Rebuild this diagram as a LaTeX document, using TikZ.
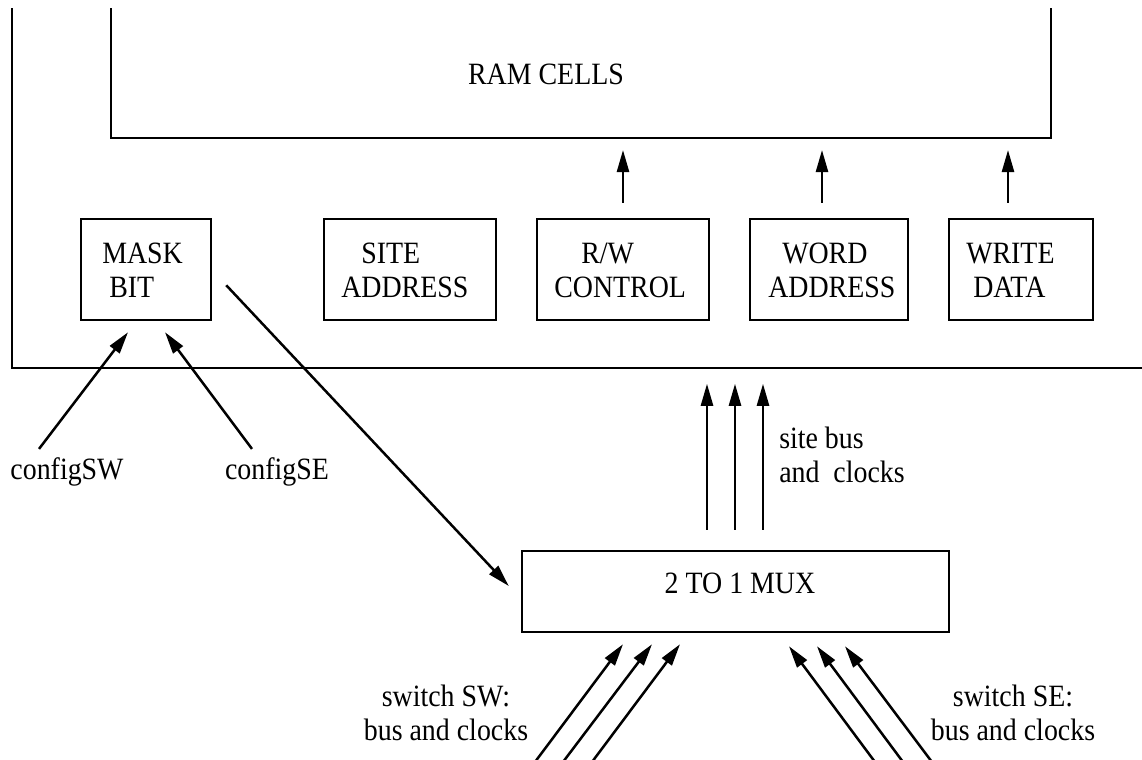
\documentclass[tikz,border=0pt]{standalone}
\usepackage{fontspec}
\setmainfont[FakeStretch=0.9]{Liberation Serif}
\usetikzlibrary{arrows.meta,calc}
\begin{document}
\begin{tikzpicture}[x=0.5pt,y=-0.5pt,line width=1.25pt,
  every node/.style={font=\fontsize{15.5}{17}\selectfont,inner sep=0pt},
  blk/.style={draw,line width=1.25pt,inner sep=0pt},
  lbl/.style={align=left,anchor=west},
  arr/.style={-{Triangle[length=11pt,width=6pt]}}]
\useasboundingbox (0,0) rectangle (1142,760);
% outer frame
\coordinate (ftop) at (12,8);
\coordinate (fl) at (12,368);
\coordinate (fr) at (1142,368);
\draw (ftop) -- (fl) -- (fr);
% RAM cells
\coordinate (ramtl) at (111,8);
\coordinate (ramb) at (111,138);
\coordinate (rambr) at (1051,138);
\coordinate (ramtr) at (1051,8);
\draw (ramtl) -- (ramb) -- (rambr) -- (ramtr);
\node (ram) at (546,74.5) {RAM CELLS};
% boxes
\node[blk,minimum width=65pt,minimum height=50.5pt] (mask) at (146,269.5) {};
\node[lbl] (maskT) at (101,270) {MASK\\\hspace*{3.5pt}BIT};
\node[blk,minimum width=86pt,minimum height=50.5pt] (site) at (410,269.5) {};
\node[lbl] (siteT) at (340,270) {\hspace*{10pt}SITE\\ADDRESS};
\node[blk,minimum width=86pt,minimum height=50.5pt] (rw) at (623,269.5) {};
\node[lbl] (rwT) at (553,270) {\hspace*{13.5pt}R/W\\CONTROL};
\node[blk,minimum width=79pt,minimum height=50.5pt] (word) at (829,269.5) {};
\node[lbl] (wordT) at (767,270) {\hspace*{7pt}WORD\\ADDRESS};
\node[blk,minimum width=72pt,minimum height=50.5pt] (write) at (1021,269.5) {};
\node[lbl] (writeT) at (965,270) {WRITE\\\hspace*{3.5pt}DATA};
% arrows into RAM
\draw[arr,shorten >=6pt] ($(rw.north)+(0,-15)$) -- ($(rw.north |- ramb)$);
\draw[arr,shorten >=6pt] ($(word.north)+(-7,-15)$) -- ($(word.north |- ramb)+(-7,0)$);
\draw[arr,shorten >=6pt] ($(write.north)+(-13,-15)$) -- ($(write.north |- ramb)+(-13,0)$);
% config inputs
\node[anchor=base] (csw) at (67,479) {configSW};
\node[anchor=base] (cse) at (277,479) {configSE};
\draw[arr] ($(csw.north)+(-28,-7)$) -- ($(mask.south)+(-18,11)$);
\draw[arr] ($(cse.north)+(-25,-7)$) -- ($(mask.south)+(19,11)$);
% mux
\node[blk,minimum width=213.5pt,minimum height=40.5pt] (mux) at (735.5,591.5) {};
\node (muxT) at (740,583) {2 TO 1 MUX};
\draw[arr] ($(mask.south east)+(14,-36)$) -- ($(mux.west)+(-12,-5.5)$);
% site bus
\foreach \dx in {-28.5,-0.5,27.5}
  \draw[arr] ($(mux.north)+(\dx,-20)$) -- ($(mux.north)+(\dx,-166)$);
\node[anchor=north west,align=left] (sbl) at (778,426) {site bus\\and\ \ clocks};
% switch inputs
\coordinate (sw1) at (535,762);
\coordinate (sw2) at (563,762);
\coordinate (sw3) at (592,762);
\draw[arr] (sw1) -- ($(mux.south)+(-112.5,11)$);
\draw[arr] (sw2) -- ($(mux.south)+(-83.5,11)$);
\draw[arr] (sw3) -- ($(mux.south)+(-55.5,11)$);
\coordinate (se1) at (875,762);
\coordinate (se2) at (903,762);
\coordinate (se3) at (932,762);
\draw[arr] (se1) -- ($(mux.south)+(53.5,13)$);
\draw[arr] (se2) -- ($(mux.south)+(81.5,13)$);
\draw[arr] (se3) -- ($(mux.south)+(109.5,13)$);
\node[anchor=north,align=center] (swl) at (446,684) {switch SW:\\bus and clocks};
\node[anchor=north,align=center] (sel) at (1013,684) {switch SE:\\bus and clocks};
\end{tikzpicture}
\end{document}
